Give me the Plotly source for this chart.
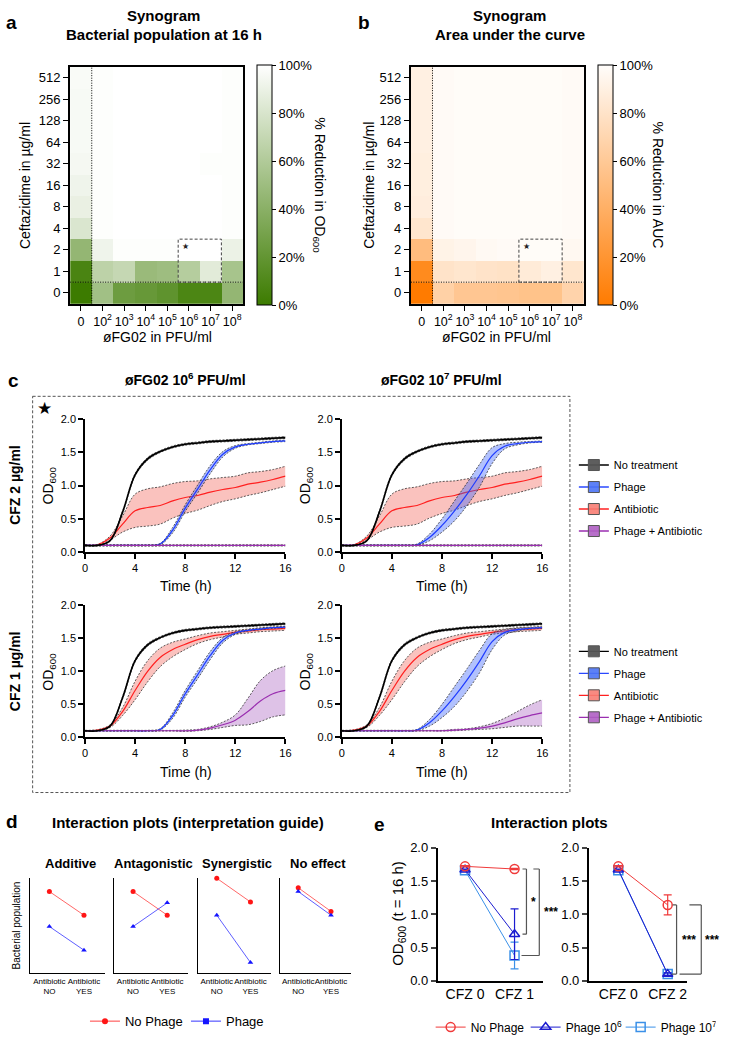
import plotly.graph_objects as go

W, H = 729, 1042
FONT = "Liberation Sans, Arial, Helvetica, sans-serif"


def px(x):
    return x / W


def py(y):
    return 1 - y / H


def xd(a, b):
    return [a / W, b / W]


def yd(top, bottom):
    return [1 - bottom / H, 1 - top / H]


# ---------------------------------------------------------------- data
phage_ticks = ["0", "10<sup>2</sup>", "10<sup>3</sup>", "10<sup>4</sup>", "10<sup>5</sup>",
               "10<sup>6</sup>", "10<sup>7</sup>", "10<sup>8</sup>"]
cfz_ticks = ["0", "1", "2", "4", "8", "16", "32", "64", "128", "256", "512"]
pct_ticks = ["0%", "20%", "40%", "60%", "80%", "100%"]

# % reduction in OD600 at 16 h  (rows: ceftazidime 0 -> 512, cols: phage 0 -> 1e8)
od_reduction = [
    [0, 52, 25, 22, 18, 8, 8, 45],
    [7, 66, 70, 48, 50, 62, 85, 55],
    [45, 92, 99, 99, 99, 100, 100, 90],
    [81, 99, 100, 100, 100, 100, 100, 99],
    [89, 99, 100, 100, 100, 100, 100, 99],
    [92, 99, 100, 100, 100, 100, 100, 99],
    [95, 99, 100, 100, 100, 100, 99, 99],
    [96, 99, 100, 100, 100, 100, 100, 99],
    [96, 99, 100, 100, 100, 100, 100, 99],
    [96, 99, 100, 100, 100, 100, 100, 99],
    [97, 99, 100, 100, 100, 100, 100, 99],
]
# % reduction in area under the curve
auc_reduction = [
    [0, 66, 58, 58, 57, 55, 55, 68],
    [12, 80, 82, 80, 79, 86, 90, 82],
    [50, 92, 94, 97, 98, 99, 99, 96],
    [82, 98, 99, 99, 99, 99, 99, 98],
    [88, 98, 99, 99, 99, 99, 99, 98],
    [89, 98, 99, 99, 99, 99, 99, 98],
    [89, 98, 99, 99, 99, 99, 99, 98],
    [90, 98, 99, 99, 99, 99, 99, 98],
    [90, 98, 99, 99, 99, 99, 99, 98],
    [90, 98, 99, 99, 99, 99, 99, 98],
    [90, 98, 99, 99, 99, 99, 99, 98],
]

# growth curves (OD600), hourly
time_h = [0, 1, 2, 3, 4, 5, 6, 7, 8, 9, 10, 11, 12, 13, 14, 15, 16]
no_treat_mean = [0.10, 0.10, 0.17, 0.60, 1.16, 1.40, 1.51, 1.58, 1.62, 1.64, 1.66, 1.67, 1.68, 1.69, 1.70, 1.71, 1.72]
no_treat_sd = [0.003, 0.003, 0.01, 0.02, 0.02, 0.02, 0.015, 0.015, 0.015, 0.015, 0.015, 0.015, 0.015, 0.015, 0.015, 0.015, 0.015]
cfz2_mean = [0.10, 0.11, 0.21, 0.42, 0.62, 0.67, 0.70, 0.77, 0.82, 0.85, 0.90, 0.94, 0.97, 1.02, 1.05, 1.09, 1.14]
cfz2_sd = [0.003, 0.005, 0.03, 0.12, 0.25, 0.28, 0.28, 0.26, 0.24, 0.22, 0.20, 0.18, 0.17, 0.17, 0.16, 0.15, 0.15]
cfz1_mean = [0.10, 0.11, 0.17, 0.39, 0.71, 1.00, 1.21, 1.33, 1.41, 1.48, 1.53, 1.56, 1.59, 1.61, 1.63, 1.64, 1.65]
cfz1_sd = [0.003, 0.005, 0.02, 0.06, 0.14, 0.16, 0.14, 0.11, 0.08, 0.06, 0.05, 0.04, 0.03, 0.03, 0.03, 0.03, 0.03]
phage6_mean = [0.10, 0.10, 0.10, 0.10, 0.10, 0.10, 0.12, 0.33, 0.66, 0.95, 1.24, 1.47, 1.58, 1.62, 1.64, 1.66, 1.67]
phage6_sd = [0.005, 0.005, 0.005, 0.005, 0.005, 0.005, 0.01, 0.04, 0.05, 0.06, 0.06, 0.04, 0.02, 0.01, 0.01, 0.01, 0.01]
phage7_mean = [0.10, 0.10, 0.10, 0.10, 0.10, 0.10, 0.11, 0.22, 0.40, 0.62, 0.87, 1.15, 1.45, 1.59, 1.63, 1.65, 1.66]
phage7_sd = [0.005, 0.005, 0.005, 0.005, 0.005, 0.005, 0.01, 0.05, 0.10, 0.15, 0.17, 0.17, 0.12, 0.04, 0.02, 0.01, 0.01]
combo2_mean = [0.10, 0.10, 0.10, 0.10, 0.10, 0.10, 0.10, 0.10, 0.10, 0.10, 0.10, 0.10, 0.10, 0.10, 0.10, 0.10, 0.10]
combo2_sd = [0.01, 0.01, 0.01, 0.01, 0.01, 0.01, 0.01, 0.01, 0.01, 0.01, 0.01, 0.01, 0.01, 0.01, 0.01, 0.01, 0.01]
combo1_6_mean = [0.10, 0.10, 0.10, 0.10, 0.10, 0.10, 0.10, 0.10, 0.10, 0.11, 0.14, 0.19, 0.26, 0.39, 0.55, 0.66, 0.71]
combo1_6_sd = [0.005, 0.005, 0.005, 0.005, 0.005, 0.005, 0.005, 0.005, 0.01, 0.01, 0.02, 0.04, 0.08, 0.20, 0.31, 0.35, 0.37]
combo1_7_mean = [0.10, 0.10, 0.10, 0.10, 0.10, 0.10, 0.10, 0.10, 0.10, 0.11, 0.12, 0.14, 0.17, 0.22, 0.28, 0.33, 0.37]
combo1_7_sd = [0.005, 0.005, 0.005, 0.005, 0.005, 0.005, 0.005, 0.005, 0.005, 0.01, 0.01, 0.02, 0.04, 0.07, 0.11, 0.16, 0.20]

# interaction guide (arbitrary bacterial population units)
guide_x = [0, 1]
guide_labels = ["Antibiotic<br>NO", "Antibiotic<br>YES"]
guide_titles = ["Additive", "Antagonistic", "Synergistic", "No effect"]
guide_nophage = [[8.6, 6.1], [8.6, 6.1], [10.0, 7.5], [9.0, 6.5]]
guide_phage = [[4.9, 2.4], [4.9, 7.4], [6.1, 1.1], [8.6, 6.1]]

# interaction plots: OD600 at 16 h
e_x = [0, 1]
e1_labels = ["CFZ 0", "CFZ 1"]
e2_labels = ["CFZ 0", "CFZ 2"]
e1_nophage = [1.72, 1.68]
e1_nophage_err = [0.01, 0.01]
e1_phage6 = [1.67, 0.70]
e1_phage6_err = [0.01, 0.38]
e1_phage7 = [1.66, 0.38]
e1_phage7_err = [0.01, 0.20]
e2_nophage = [1.72, 1.14]
e2_nophage_err = [0.01, 0.15]
e2_phage6 = [1.67, 0.10]
e2_phage6_err = [0.01, 0.02]
e2_phage7 = [1.66, 0.10]
e2_phage7_err = [0.01, 0.02]

# ---------------------------------------------------------------- figure
fig = go.Figure()
layout = dict(
    width=W, height=H, margin=dict(l=0, r=0, t=0, b=0),
    paper_bgcolor="white", plot_bgcolor="rgba(0,0,0,0)",
    font=dict(family=FONT, color="black", size=12),
    showlegend=True, hovermode=False,
)
annotations = []
shapes = []


def ann(text, x, y, size=13, bold=False, angle=0, xanchor="center", yanchor="middle", color="black"):
    annotations.append(dict(
        text=f"<b>{text}</b>" if bold else text, x=px(x), y=py(y), xref="paper", yref="paper",
        showarrow=False, font=dict(size=size, color=color, family=FONT), textangle=angle,
        xanchor=xanchor, yanchor=yanchor))


# ---------------------------------------------------------------- panels a & b (synograms)
def cbar(xleft):
    return dict(x=px(xleft), xanchor="left", xpad=0, y=py(181), yanchor="middle", ypad=0,
                len=240, lenmode="pixels", thickness=15, thicknessmode="pixels",
                outlinecolor="black", outlinewidth=1, ticks="outside", ticklen=4, tickwidth=1,
                tickcolor="black", tickmode="array", tickvals=[0, 20, 40, 60, 80, 100],
                ticktext=pct_ticks, tickfont=dict(size=13))


GREEN = [[0, "#3c7b00"], [1, "#ffffff"]]
ORANGE = [[0, "#ff7b00"], [1, "#fffdfb"]]

fig.add_trace(go.Heatmap(z=od_reduction, x=list(range(len(phage_ticks))), y=list(range(len(cfz_ticks))),
                         zmin=0, zmax=100, colorscale=GREEN, colorbar=cbar(257), xaxis="x", yaxis="y"))
fig.add_trace(go.Heatmap(z=auc_reduction, x=list(range(len(phage_ticks))), y=list(range(len(cfz_ticks))),
                         zmin=0, zmax=100, colorscale=ORANGE, colorbar=cbar(602), xaxis="x2", yaxis="y2"))

DOT = dict(color="black", width=1, dash="1px,1.5px")


def heat_axes(n, xdom, ydom):
    common = dict(showline=True, mirror=True, linecolor="black", linewidth=2, ticks="outside",
                  ticklen=5, tickwidth=1.2, tickcolor="black", showgrid=False, zeroline=False,
                  fixedrange=True, tickangle=0)
    sfx = "" if n == 1 else str(n)
    layout["xaxis" + sfx] = dict(common, domain=xdom, range=[-0.5, len(phage_ticks) - 0.5],
                                 tickmode="array", tickvals=list(range(len(phage_ticks))),
                                 ticktext=phage_ticks, anchor="y" + sfx, tickfont=dict(size=12.5))
    layout["yaxis" + sfx] = dict(common, domain=ydom, range=[-0.5, len(cfz_ticks) - 0.5],
                                 tickmode="array", tickvals=list(range(len(cfz_ticks))),
                                 ticktext=cfz_ticks, anchor="x" + sfx, tickfont=dict(size=13))
    xr, yr = "x" + sfx, "y" + sfx
    shapes.append(dict(type="line", xref=xr, yref=yr, x0=0.5, x1=0.5, y0=-0.5, y1=len(cfz_ticks) - 0.5,
                       line=DOT))
    shapes.append(dict(type="line", xref=xr, yref=yr, x0=-0.5, x1=len(phage_ticks) - 0.5, y0=0.5, y1=0.5,
                       line=DOT))
    shapes.append(dict(type="rect", xref=xr, yref=yr, x0=4.5, x1=6.5, y0=0.5, y1=2.5,
                       line=dict(color="#444", width=1, dash="3px,2px")))
    annotations.append(dict(text="★", xref=xr, yref=yr, x=4.5, y=2.5, xanchor="left", yanchor="top",
                            xshift=2, yshift=-1, showarrow=False, font=dict(size=8, color="#222")))


heat_axes(1, xd(68, 243), yd(61, 301))
heat_axes(2, xd(413, 588), yd(61, 301))

ann("a", 9, 16, 19, bold=True)
ann("Synogram", 163, 9, 15, bold=True)
ann("Bacterial population at 16 h", 163, 28, 15, bold=True)
ann("b", 366, 16, 19, bold=True)
ann("Synogram", 513, 9, 15, bold=True)
ann("Area under the curve", 513, 28, 15, bold=True)
ann("Ceftazidime in µg/ml", 23, 181, 14, angle=-90)
ann("Ceftazidime in µg/ml", 371, 181, 14, angle=-90)
ann("øFG02 in PFU/ml", 156, 335, 14)
ann("øFG02 in PFU/ml", 500, 335, 14)
ann("% Reduction in OD<sub>600</sub>", 320, 181, 14, angle=90)
ann("% Reduction in AUC", 663, 181, 14, angle=90)

# ---------------------------------------------------------------- panel c (growth curves)
C_DOMS = {3: (xd(83, 286), yd(418, 553)), 4: (xd(343, 546), yd(418, 553)),
          5: (xd(83, 286), yd(607, 741)), 6: (xd(343, 546), yd(607, 741))}
for n, (xdom, ydom) in C_DOMS.items():
    base = dict(showline=True, linecolor="black", linewidth=1.5, ticks="outside", ticklen=5,
                tickwidth=1.5, tickcolor="black", showgrid=False, zeroline=False,
                tickfont=dict(size=11), fixedrange=True)
    layout[f"xaxis{n}"] = dict(base, domain=xdom, range=[0, 16], tickmode="array",
                               tickvals=[0, 4, 8, 12, 16], anchor=f"y{n}")
    layout[f"yaxis{n}"] = dict(base, domain=ydom, range=[0, 2], tickmode="array",
                               tickvals=[0, 0.5, 1, 1.5, 2], ticktext=["0.0", "0.5", "1.0", "1.5", "2.0"],
                               anchor=f"x{n}")

EDGE = dict(color="#333333", width=0.8, dash="2px,1.5px")


def add_band(n, mean, sd, color, fill, width=1.2):
    lo = [m - s for m, s in zip(mean, sd)]
    hi = [m + s for m, s in zip(mean, sd)]
    xa, ya = f"x{n}", f"y{n}"
    fig.add_trace(go.Scatter(x=time_h, y=lo, mode="lines", line=dict(EDGE, shape="spline"),
                             xaxis=xa, yaxis=ya, showlegend=False))
    fig.add_trace(go.Scatter(x=time_h, y=hi, mode="lines", line=dict(EDGE, shape="spline"),
                             fill="tonexty", fillcolor=fill, xaxis=xa, yaxis=ya, showlegend=False))
    fig.add_trace(go.Scatter(x=time_h, y=mean, mode="lines", line=dict(color=color, width=width, shape="spline"),
                             xaxis=xa, yaxis=ya, showlegend=False))


RED, RED_F = "#ff2020", "rgba(244,110,100,0.42)"
BLUE, BLUE_F = "#1f3cff", "rgba(60,100,250,0.40)"
PURP, PURP_F = "#9a2eb0", "rgba(160,80,185,0.35)"
BLK, BLK_F = "#000000", "rgba(60,60,60,0.5)"

panel_c = {
    3: (cfz2_mean, cfz2_sd, phage6_mean, phage6_sd, combo2_mean, combo2_sd),
    4: (cfz2_mean, cfz2_sd, phage7_mean, phage7_sd, combo2_mean, combo2_sd),
    5: (cfz1_mean, cfz1_sd, phage6_mean, phage6_sd, combo1_6_mean, combo1_6_sd),
    6: (cfz1_mean, cfz1_sd, phage7_mean, phage7_sd, combo1_7_mean, combo1_7_sd),
}
for n, (am, asd, pm, psd, cm, csd) in panel_c.items():
    add_band(n, am, asd, RED, RED_F)
    add_band(n, pm, psd, BLUE, BLUE_F)
    add_band(n, cm, csd, PURP, PURP_F)
    add_band(n, no_treat_mean, no_treat_sd, BLK, BLK_F, width=1.6)

legend_items = [("No treatment", "black", "rgba(85,85,85,0.95)"),
                ("Phage", "#2a48ff", "rgba(75,115,245,0.9)"),
                ("Antibiotic", "#ff2020", "rgba(248,125,115,0.9)"),
                ("Phage + Antibiotic", "#9a2eb0", "rgba(175,95,195,0.9)")]
for lg in ["legend", "legend2"]:
    for name, lc, mc in legend_items:
        fig.add_trace(go.Scatter(x=[None], y=[None], mode="lines+markers", name=name,
                                 line=dict(color=lc, width=1.3),
                                 marker=dict(symbol="square", size=11, color=mc, line=dict(color="#555", width=1)),
                                 legend=lg, legendgroup=lg + name, xaxis="x3", yaxis="y3"))

leg_c = dict(xanchor="left", yanchor="top", bgcolor="rgba(0,0,0,0)", font=dict(size=11, family=FONT),
             itemwidth=30, traceorder="grouped", tracegroupgap=3, itemclick=False, itemdoubleclick=False)
layout["legend"] = dict(leg_c, x=px(578), y=py(450))
layout["legend2"] = dict(leg_c, x=px(578), y=py(639))

shapes.append(dict(type="rect", xref="paper", yref="paper", x0=px(30), x1=px(574), y0=py(395), y1=py(797),
                   line=dict(color="#555", width=1, dash="3px,2px")))
ann("c", 11, 379, 19, bold=True)
ann("★", 42, 407, 17)
ann("øFG02 10<sup>6</sup> PFU/ml", 185, 377, 14, bold=True)
ann("øFG02 10<sup>7</sup> PFU/ml", 444, 377, 14, bold=True)
ann("CFZ 2 µg/ml", 12, 485, 14, bold=True, angle=-90)
ann("CFZ 1 µg/ml", 12, 674, 14, bold=True, angle=-90)
for xx in (47, 307):
    ann("OD<sub>600</sub>", xx, 485, 14, angle=-90)
    ann("OD<sub>600</sub>", xx, 674, 14, angle=-90)
for xx in (185, 444):
    ann("Time (h)", xx, 587, 14)
    ann("Time (h)", xx, 776, 14)

# ---------------------------------------------------------------- panel d (interpretation guide)
D_X = [(27, 103), (112, 187), (197, 271), (280, 352)]
for i, (x0, x1) in enumerate(D_X):
    n = 7 + i
    layout[f"xaxis{n}"] = dict(domain=xd(x0, x1), range=[-0.57, 1.6], showline=True, linecolor="black",
                               linewidth=1.2, ticks="", showgrid=False, zeroline=False, tickmode="array",
                               tickvals=guide_x, ticktext=guide_labels, tickfont=dict(size=8),
                               tickangle=0, anchor=f"y{n}", fixedrange=True)
    layout[f"yaxis{n}"] = dict(domain=yd(884, 980), range=[0, 10], showline=True, linecolor="black",
                               linewidth=1.2, ticks="", showticklabels=False, showgrid=False,
                               zeroline=False, anchor=f"x{n}", fixedrange=True)
    fig.add_trace(go.Scatter(x=guide_x, y=guide_nophage[i], mode="lines+markers",
                             line=dict(color="#ff4040", width=0.8),
                             marker=dict(symbol="circle", size=5, color="#ff1515"),
                             xaxis=f"x{n}", yaxis=f"y{n}", showlegend=False, cliponaxis=False))
    fig.add_trace(go.Scatter(x=guide_x, y=guide_phage[i], mode="lines+markers",
                             line=dict(color="#3535ff", width=0.8),
                             marker=dict(symbol="triangle-up", size=5, color="#1515ff"),
                             xaxis=f"x{n}", yaxis=f"y{n}", showlegend=False, cliponaxis=False))
    ann(guide_titles[i], (x0 + x1) / 2 + 3, 869, 13, bold=True)

fig.add_trace(go.Scatter(x=[None], y=[None], mode="lines+markers", name="No Phage",
                         line=dict(color="#ff4040", width=1), marker=dict(symbol="circle", size=6, color="#ff1515"),
                         legend="legend3", xaxis="x7", yaxis="y7"))
fig.add_trace(go.Scatter(x=[None], y=[None], mode="lines+markers", name="Phage",
                         line=dict(color="#3535ff", width=1), marker=dict(symbol="square", size=6, color="#1515ff"),
                         legend="legend3", xaxis="x7", yaxis="y7"))
layout["legend3"] = dict(orientation="h", x=px(83), y=py(1029), xanchor="left", yanchor="middle",
                         bgcolor="rgba(0,0,0,0)", font=dict(size=13, family=FONT), itemwidth=30,
                         entrywidth=56, itemclick=False, itemdoubleclick=False)

ann("d", 9, 826, 19, bold=True)
ann("Interaction plots (interpretation guide)", 187, 827, 15, bold=True)
ann("Bacterial population", 14, 932, 10, angle=-90)

# ---------------------------------------------------------------- panel e (interaction plots)
e_axes = {11: (xd(440, 547), [-0.555, 1.58], e1_labels), 12: (xd(593, 693), [-0.6, 1.4], e2_labels)}
for n, (xdom, xr, labs) in e_axes.items():
    layout[f"xaxis{n}"] = dict(domain=xdom, range=xr, showline=True, linecolor="black", linewidth=1.5,
                               ticks="", showgrid=False, zeroline=False, tickmode="array", tickvals=e_x,
                               ticktext=labs, tickfont=dict(size=14), anchor=f"y{n}", fixedrange=True)
    layout[f"yaxis{n}"] = dict(domain=yd(853, 988), range=[0, 2], showline=True, linecolor="black",
                               linewidth=1.5, ticks="outside", ticklen=5, tickwidth=1.5, showgrid=False,
                               zeroline=False, tickmode="array", tickvals=[0, 0.5, 1, 1.5, 2],
                               ticktext=["0.0", "0.5", "1.0", "1.5", "2.0"], tickfont=dict(size=13),
                               anchor=f"x{n}", fixedrange=True)

E_RED, E_BLUE, E_LBLUE = "#f03a3a", "#1c1cd0", "#3a90e8"
e_series = [
    (11, e1_phage7, e1_phage7_err, e1_phage6, e1_phage6_err, e1_nophage, e1_nophage_err, True),
    (12, e2_phage7, e2_phage7_err, e2_phage6, e2_phage6_err, e2_nophage, e2_nophage_err, False),
]
for n, p7, p7e, p6, p6e, npg, npe, show in e_series:
    common = dict(mode="lines+markers", xaxis=f"x{n}", yaxis=f"y{n}", cliponaxis=False, legend="legend4",
                  showlegend=show)
    fig.add_trace(go.Scatter(x=e_x, y=p7, name="Phage 10<sup>7</sup>", line=dict(color=E_LBLUE, width=1),
                             marker=dict(symbol="square-open", size=9, color=E_LBLUE, line=dict(width=1.5)),
                             error_y=dict(type="data", array=p7e, color=E_LBLUE, thickness=1.2, width=4),
                             legendrank=3, **common))
    fig.add_trace(go.Scatter(x=e_x, y=p6, name="Phage 10<sup>6</sup>", line=dict(color=E_BLUE, width=1),
                             marker=dict(symbol="triangle-up-open", size=9, color=E_BLUE, line=dict(width=1.5)),
                             error_y=dict(type="data", array=p6e, color=E_BLUE, thickness=1.2, width=4),
                             legendrank=2, **common))
    fig.add_trace(go.Scatter(x=e_x, y=npg, name="No Phage", line=dict(color=E_RED, width=1),
                             marker=dict(symbol="circle-open", size=9, color=E_RED, line=dict(width=1.5)),
                             error_y=dict(type="data", array=npe, color=E_RED, thickness=1.2, width=4),
                             legendrank=1, **common))

layout["legend4"] = dict(orientation="h", x=px(433), y=py(1035), xanchor="left", yanchor="middle",
                         bgcolor="rgba(0,0,0,0)", font=dict(size=12, family=FONT), itemwidth=30,
                         entrywidth=50, traceorder="normal", itemclick=False, itemdoubleclick=False)


def bracket(n, y_top, y_bot, xb, xt_top, xt_bot, label, xl):
    yr = f"y{n}"
    ln = dict(color="#555", width=1.2)
    shapes.append(dict(type="line", xref="paper", yref=yr, x0=px(xb), x1=px(xb), y0=y_bot, y1=y_top, line=ln))
    shapes.append(dict(type="line", xref="paper", yref=yr, x0=px(xt_top), x1=px(xb), y0=y_top, y1=y_top, line=ln))
    shapes.append(dict(type="line", xref="paper", yref=yr, x0=px(xt_bot), x1=px(xb), y0=y_bot, y1=y_bot, line=ln))
    annotations.append(dict(text=f"<b>{label}</b>", xref="paper", yref=yr, x=px(xl), y=(y_top + y_bot) / 2,
                            showarrow=False, font=dict(size=12, family=FONT), xanchor="center",
                            yanchor="middle"))


bracket(11, e1_nophage[1], e1_phage6[1], 530, 526, 526, "*", 537)
bracket(11, e1_nophage[1], e1_phage7[1], 543, 537, 525, "***", 555)
bracket(12, e2_nophage[1], e2_phage6[1], 682, 678, 677, "***", 695)
bracket(12, e2_nophage[1], e2_phage6[1], 707, 695, 685, "***", 718)

ann("e", 381, 829, 19, bold=True)
ann("Interaction plots", 553, 827, 15, bold=True)
ann("OD<sub>600</sub> (t = 16 h)", 401, 920, 15, angle=-90)

layout["annotations"] = annotations
layout["shapes"] = shapes
fig.update_layout(**layout)
fig.write_html("out.html", config={"displayModeBar": False}, post_script=(
    "document.body.style.margin='0';document.body.style.padding='0';"
    "document.documentElement.style.overflow='hidden';"))
